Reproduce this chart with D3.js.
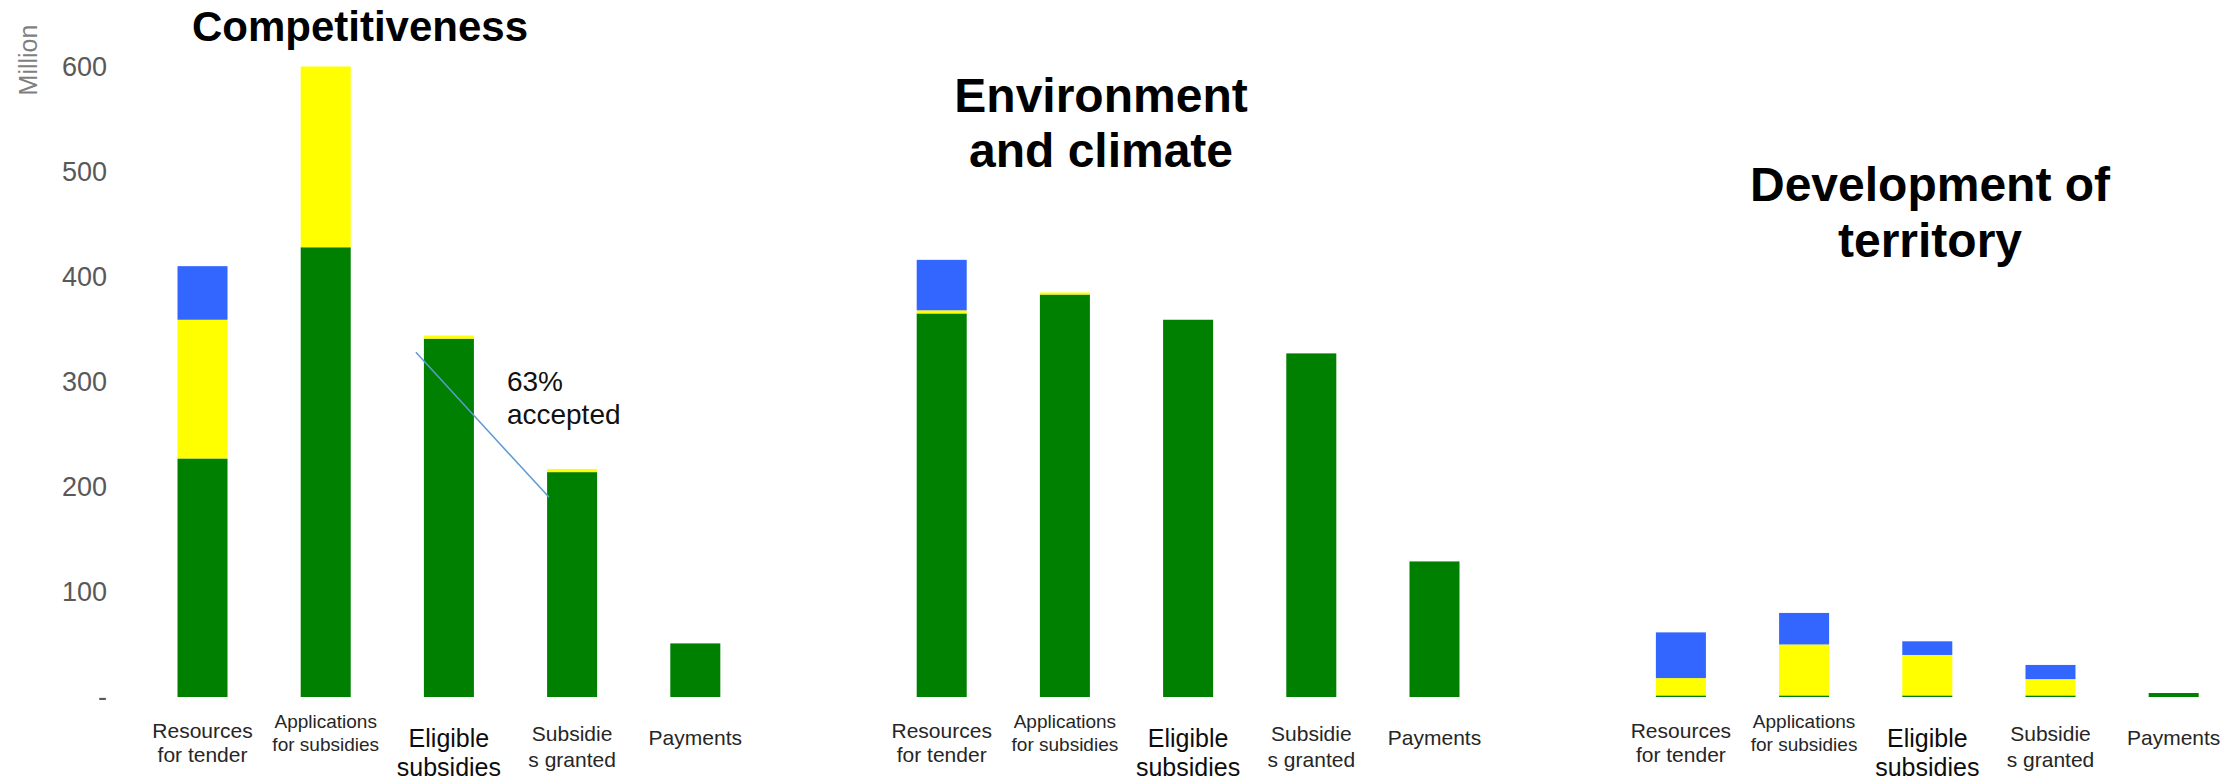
<!DOCTYPE html>
<html>
<head>
<meta charset="utf-8">
<script src="https://cdn.jsdelivr.net/npm/d3@7"></script>
<style>
  html, body { margin: 0; padding: 0; background: #fff; }
  svg { display: block; font-family: "Liberation Sans", Arial, sans-serif; }
</style>
</head>
<body>
<svg id="chart" width="2234" height="784"></svg>
<script>
// data (million)
const groups = ['Competitiveness', 'Environment and climate', 'Development of territory']
const titleLines = [['Competitiveness'], ['Environment', 'and climate'], ['Development of', 'territory']]
const categories = ['Resources for tender', 'Applications for subsidies', 'Eligible subsidies', 'Subsidies granted', 'Payments']
const categoryLines = [['Resources', 'for tender'], ['Applications', 'for subsidies'], ['Eligible', 'subsidies'], ['Subsidie', 's granted'], ['Payments']]
const seriesKeys = ['green', 'yellow', 'blue']
// one row per group, one value per category
const greenValues = [
  [227, 428, 341, 214, 51],
  [365, 383, 359, 327, 129],
  [1.5, 1.5, 1.5, 1.5, 3.8],
]
const yellowValues = [
  [132, 172, 3, 3, 0],
  [3, 2, 0, 0, 0],
  [16.5, 48.5, 38.5, 15.5, 0],
]
const blueValues = [
  [51, 0, 0, 0, 0],
  [48, 0, 0, 0, 0],
  [43.5, 30, 13, 13.5, 0],
]
const yTicks = [0, 100, 200, 300, 400, 500, 600]
const yLabel = 'Million'
const noteLines = ['63%', 'accepted']
// the note line runs from "Eligible subsidies" to "Subsidies granted" of the first group
const noteFrom = {group: 0, category: 2, value: 328}
const noteTo = {group: 0, category: 3, value: 190}

// styles / layout
const colors = {green: '#008000', yellow: '#ffff00', blue: '#3366ff'}
const titleStyle = [
  {x: 360, y: [41], size: 42},
  {x: 1101, y: [112, 167], size: 48},
  {x: 1930, y: [201, 257], size: 48},
]
// centre y of each text line under the bars
const labelStyle = [
  {size: 21, y: [731, 755], fill: '#262626'},
  {size: 19, y: [721, 744], fill: '#262626'},
  {size: 25, y: [738, 767], fill: '#0d0d0d'},
  {size: 21, y: [734, 760], fill: '#262626'},
  {size: 21, y: [738], fill: '#262626'},
]

const svg = d3.select('#chart')

const keyOf = (gi, ci) => `${gi}:${ci}`
// one band per bar, plus an empty band between groups
const bandKeys = []
groups.forEach((g, gi) => {
  categories.forEach((c, ci) => bandKeys.push(keyOf(gi, ci)))
  if (gi < groups.length - 1) bandKeys.push(`gap${gi}`)
})

const x = d3.scaleBand()
  .domain(bandKeys)
  .range([177.5, 2198.7])
  .paddingInner(0.594)
  .paddingOuter(0)

const y = d3.scaleLinear()
  .domain([0, 600])
  .range([697, 66.5])

const rows = []
groups.forEach((g, gi) => {
  categories.forEach((c, ci) => {
    rows.push({
      key: keyOf(gi, ci),
      green: greenValues[gi][ci],
      yellow: yellowValues[gi][ci],
      blue: blueValues[gi][ci],
    })
  })
})

const stacked = d3.stack().keys(seriesKeys)(rows)

svg.append('g')
  .selectAll('g')
  .data(stacked)
  .join('g')
  .attr('fill', s => colors[s.key])
  .selectAll('rect')
  .data(s => s.filter(d => d[1] - d[0] > 0))
  .join('rect')
  .attr('x', d => x(d.data.key))
  .attr('width', x.bandwidth())
  .attr('y', d => y(d[1]))
  .attr('height', d => y(d[0]) - y(d[1]))

// y axis, labels only
const axis = svg.append('g')
  .attr('transform', 'translate(107,0)')
  .call(d3.axisLeft(y).tickValues(yTicks).tickSize(0).tickPadding(0)
    .tickFormat(d => d === 0 ? '-' : d))
axis.select('.domain').remove()
axis.selectAll('text')
  .attr('font-family', '"Liberation Sans", Arial, sans-serif')
  .attr('font-size', 27)
  .attr('fill', '#595959')

svg.append('text')
  .attr('transform', 'translate(37,60) rotate(-90)')
  .attr('text-anchor', 'middle')
  .attr('font-size', 25)
  .attr('fill', '#7f7f7f')
  .text(yLabel)

// group titles
groups.forEach((g, gi) => {
  const st = titleStyle[gi]
  svg.append('g')
    .selectAll('text')
    .data(titleLines[gi])
    .join('text')
    .attr('x', st.x)
    .attr('y', (d, i) => st.y[i])
    .attr('text-anchor', 'middle')
    .attr('font-size', st.size)
    .attr('font-weight', 'bold')
    .attr('fill', '#000')
    .text(d => d)
})

// category labels under each bar
groups.forEach((g, gi) => {
  categories.forEach((c, ci) => {
    const st = labelStyle[ci]
    const cx = x(keyOf(gi, ci)) + x.bandwidth() / 2
    svg.append('g')
      .selectAll('text')
      .data(categoryLines[ci])
      .join('text')
      .attr('x', cx)
      .attr('y', (d, i) => st.y[i])
      .attr('dy', '0.35em')
      .attr('text-anchor', 'middle')
      .attr('font-size', st.size)
      .attr('fill', st.fill)
      .text(d => d)
  })
})

// acceptance note
const fromX = x(keyOf(noteFrom.group, noteFrom.category)) - 8
const toX = x(keyOf(noteTo.group, noteTo.category)) + 2
svg.append('line')
  .attr('x1', fromX)
  .attr('y1', y(noteFrom.value))
  .attr('x2', toX)
  .attr('y2', y(noteTo.value))
  .attr('stroke', '#5b9bd5')
  .attr('stroke-width', 1.5)

const noteX = x(keyOf(noteFrom.group, noteFrom.category)) + x.bandwidth() + 33
svg.append('g')
  .selectAll('text')
  .data(noteLines)
  .join('text')
  .attr('x', noteX)
  .attr('y', (d, i) => [391, 424][i])
  .attr('font-size', 28)
  .attr('fill', '#111')
  .text(d => d)
</script>
</body>
</html>
